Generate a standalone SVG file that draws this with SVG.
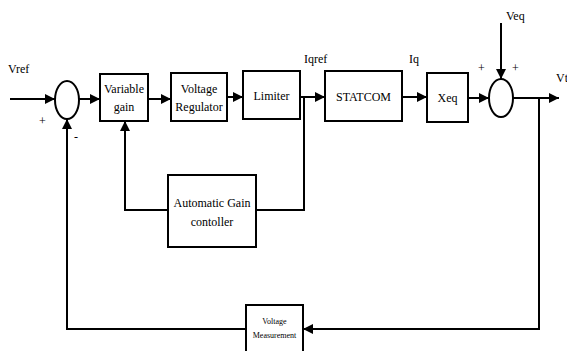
<svg xmlns="http://www.w3.org/2000/svg" width="567" height="351" viewBox="0 0 567 351">
<defs>
<marker id="ah" viewBox="0 0 10 10" refX="10" refY="5" markerWidth="10" markerHeight="10" markerUnits="userSpaceOnUse" orient="auto">
<path d="M0,0 L10,5 L0,10 z" fill="#000"/>
</marker>
</defs>
<style>
.b{fill:#fff;stroke:#000;stroke-width:2}
.c{fill:none;stroke:#000;stroke-width:2}
text{font-family:'Liberation Serif','DejaVu Serif',serif;fill:#000}
.t{font-size:12px}
.s{font-size:8px}
</style>
<rect width="567" height="351" fill="#fff"/>
<g id="connectors">
<line class="c" x1="10" y1="99" x2="55" y2="99" marker-end="url(#ah)"/>
<line class="c" x1="79" y1="99" x2="100" y2="99" marker-end="url(#ah)"/>
<line class="c" x1="148" y1="99" x2="171" y2="99" marker-end="url(#ah)"/>
<line class="c" x1="227" y1="97" x2="243" y2="97" marker-end="url(#ah)"/>
<line class="c" x1="300" y1="97" x2="325" y2="97" marker-end="url(#ah)"/>
<line class="c" x1="402" y1="97" x2="427" y2="97" marker-end="url(#ah)"/>
<line class="c" x1="468" y1="98" x2="489" y2="98" marker-end="url(#ah)"/>
<line class="c" x1="513" y1="98" x2="559" y2="98" marker-end="url(#ah)"/>
<line class="c" x1="501" y1="23" x2="501" y2="79" marker-end="url(#ah)"/>
<polyline class="c" points="304,97 304,210 256,210"/>
<polyline class="c" points="168,210 125,210 125,121" marker-end="url(#ah)"/>
<polyline class="c" points="539,98 539,329 303,329" marker-end="url(#ah)"/>
<polyline class="c" points="246,329 67,329 67,119" marker-end="url(#ah)"/>
</g>
<g id="sum1"><ellipse class="b" cx="67" cy="100" rx="12" ry="19"/></g>
<g id="sum2"><ellipse class="b" cx="501" cy="98" rx="12" ry="19"/></g>
<g id="variable-gain"><rect class="b" x="100" y="74" width="48" height="47"/>
<text class="t" x="124" y="93" text-anchor="middle" font-size="11">Variable</text>
<text class="t" x="124" y="111" text-anchor="middle" font-size="11">gain</text></g>
<g id="voltage-regulator"><rect class="b" x="171" y="73" width="56" height="48"/>
<text class="t" x="199" y="93" text-anchor="middle" font-size="11">Voltage</text>
<text class="t" x="199" y="111" text-anchor="middle" font-size="11">Regulator</text></g>
<g id="limiter"><rect class="b" x="243" y="71" width="57" height="48"/>
<text class="t" x="271.5" y="100" text-anchor="middle">Limiter</text></g>
<g id="statcom"><rect class="b" x="325" y="71" width="77" height="50"/>
<text class="t" x="363.5" y="101" text-anchor="middle">STATCOM</text></g>
<g id="xeq"><rect class="b" x="427" y="73" width="41" height="49"/>
<text class="t" x="447.5" y="102" text-anchor="middle">Xeq</text></g>
<g id="agc"><rect class="b" x="168" y="175" width="88" height="72"/>
<text class="t" x="212" y="207" text-anchor="middle">Automatic Gain</text>
<text class="t" x="212" y="226" text-anchor="middle">contoller</text></g>
<g id="voltage-measurement"><rect class="b" x="246" y="305" width="57" height="50"/>
<text class="s" x="274.5" y="324" text-anchor="middle">Voltage</text>
<text class="s" x="274.5" y="338" text-anchor="middle">Measurement</text></g>
<g id="labels">
<text class="t" x="8" y="73">Vref</text>
<text class="t" x="39" y="125">+</text>
<text class="t" x="74" y="141">-</text>
<text class="t" x="304" y="63">Iqref</text>
<text class="t" x="409" y="63">Iq</text>
<text class="t" x="506" y="20">Veq</text>
<text class="t" x="478" y="72">+</text>
<text class="t" x="512" y="72">+</text>
<text class="t" x="556" y="82">Vt</text>
</g>
</svg>
